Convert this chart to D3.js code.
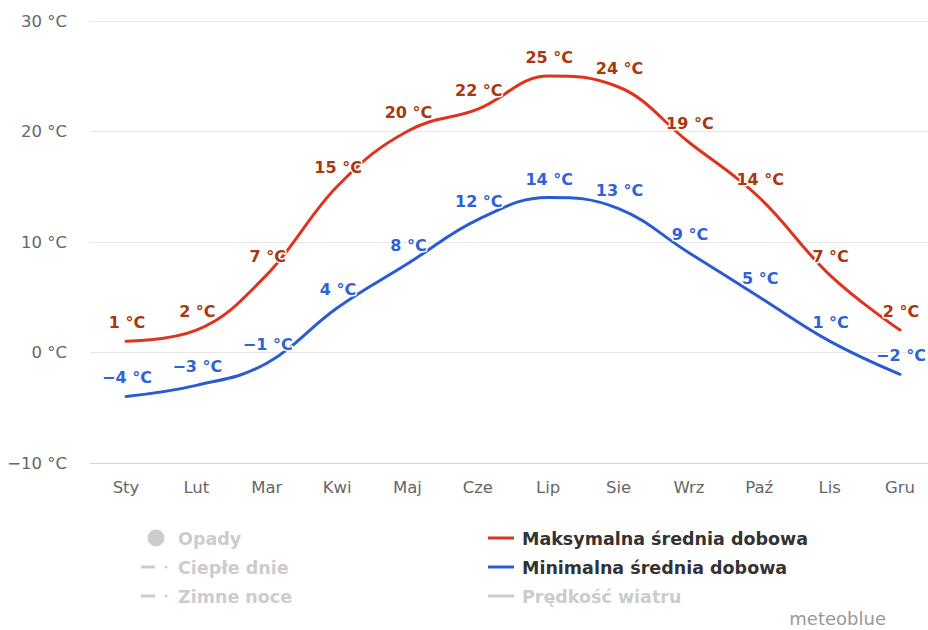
<!DOCTYPE html>
<html>
<head>
<meta charset="utf-8">
<script src="https://cdn.jsdelivr.net/npm/d3@7"></script>
<style>
  html, body { margin: 0; padding: 0; background: #fff; }
  svg { display: block; font-family: "DejaVu Sans", Verdana, sans-serif; }
</style>
</head>
<body>
<svg id="chart" width="928" height="630"></svg>
<script>
// ---- data ----
const months = ["Sty", "Lut", "Mar", "Kwi", "Maj", "Cze", "Lip", "Sie", "Wrz", "Paź", "Lis", "Gru"];
const maxTemp = [1, 2, 7, 15, 20, 22, 25, 24, 19, 14, 7, 2];
const minTemp = [-4, -3, -1, 4, 8, 12, 14, 13, 9, 5, 1, -2];
const yTicks = [-10, 0, 10, 20, 30];
const legendLeft = ["Opady", "Ciepłe dnie", "Zimne noce"];
const legendRight = ["Maksymalna średnia dobowa", "Minimalna średnia dobowa", "Prędkość wiatru"];

const svg = d3.select("#chart");
const x = d3.scalePoint().domain(months).range([126, 900]);
const y = d3.scaleLinear().domain([-10, 30]).range([462.7, 20.7]);

// gridlines
svg.append("g").selectAll("line").data(yTicks.filter(d => d !== -10)).join("line")
  .attr("x1", 90).attr("x2", 928)
  .attr("y1", d => Math.round(y(d)) + 0.5).attr("y2", d => Math.round(y(d)) + 0.5)
  .attr("stroke", "#e6e6e6").attr("stroke-width", 1);
// x axis line
svg.append("line").attr("x1", 90).attr("x2", 928)
  .attr("y1", Math.round(y(-10)) + 0.5).attr("y2", Math.round(y(-10)) + 0.5)
  .attr("stroke", "#ccd6eb").attr("stroke-width", 1);

// y labels
svg.append("g").selectAll("text").data(yTicks).join("text")
  .attr("x", 67).attr("y", d => y(d) + 6)
  .attr("text-anchor", "end").attr("font-size", 16.5).attr("fill", "#666")
  .text(d => (d < 0 ? "\u2212" + Math.abs(d) : d) + " °C");

// x labels
svg.append("g").selectAll("text").data(months).join("text")
  .attr("x", d => x(d)).attr("y", 493)
  .attr("text-anchor", "middle").attr("font-size", 16.5).attr("fill", "#666")
  .text(d => d);

// Highcharts-like spline
function splinePath(pts) {
  const sm = 1.5, den = sm + 1;
  const ctrl = pts.map((p, i) => {
    if (i === 0 || i === pts.length - 1) return { lx: p[0], ly: p[1], rx: p[0], ry: p[1] };
    const l = pts[i - 1], n = pts[i + 1];
    let lx = (sm * p[0] + l[0]) / den, ly = (sm * p[1] + l[1]) / den;
    let rx = (sm * p[0] + n[0]) / den, ry = (sm * p[1] + n[1]) / den;
    let corr = 0;
    if (rx !== lx) corr = ((ry - ly) * (rx - p[0])) / (rx - lx) + p[1] - ry;
    ly += corr; ry += corr;
    if (ly > l[1] && ly > p[1]) { ly = Math.max(l[1], p[1]); ry = 2 * p[1] - ly; }
    else if (ly < l[1] && ly < p[1]) { ly = Math.min(l[1], p[1]); ry = 2 * p[1] - ly; }
    if (ry > n[1] && ry > p[1]) { ry = Math.max(n[1], p[1]); ly = 2 * p[1] - ry; }
    else if (ry < n[1] && ry < p[1]) { ry = Math.min(n[1], p[1]); ly = 2 * p[1] - ry; }
    return { lx, ly, rx, ry };
  });
  const path = d3.path();
  path.moveTo(pts[0][0], pts[0][1]);
  for (let i = 1; i < pts.length; i++) {
    path.bezierCurveTo(ctrl[i - 1].rx, ctrl[i - 1].ry, ctrl[i].lx, ctrl[i].ly, pts[i][0], pts[i][1]);
  }
  return path.toString();
}

const series = [
  { values: maxTemp, line: "#e0321c", label: "#a8380f" },
  { values: minTemp, line: "#2a5bd3", label: "#2f62d4" }
];

series.forEach(s => {
  const pts = months.map((m, i) => [x(m), y(s.values[i])]);
  svg.append("path").attr("d", splinePath(pts))
    .attr("fill", "none").attr("stroke", s.line).attr("stroke-width", 3)
    .attr("stroke-linejoin", "round").attr("stroke-linecap", "round");
});

series.forEach(s => {
  svg.append("g").selectAll("text").data(months).join("text")
    .attr("x", d => x(d) + 1).attr("y", (d, i) => y(s.values[i]) - 13)
    .attr("text-anchor", "middle").attr("font-size", 16).attr("font-weight", "bold")
    .attr("fill", s.label).attr("stroke", "#fff").attr("stroke-width", 3)
    .attr("paint-order", "stroke").attr("stroke-linejoin", "round")
    .text((d, i) => { const v = s.values[i]; return (v < 0 ? "\u2212" + Math.abs(v) : v) + " °C"; });
});

// legend
const rowsY = [538, 567, 596];
const lg = svg.append("g");
// left column
lg.append("circle").attr("cx", 156).attr("cy", rowsY[0]).attr("r", 8.5).attr("fill", "#ccc");
[1, 2].forEach(r => {
  lg.append("line").attr("x1", 141).attr("x2", 155).attr("y1", rowsY[r]).attr("y2", rowsY[r])
    .attr("stroke", "#ccc").attr("stroke-width", 3);
  lg.append("circle").attr("cx", 166).attr("cy", rowsY[r]).attr("r", 1.5).attr("fill", "#ccc");
});
lg.selectAll("text.l").data(legendLeft).join("text").attr("class", "l")
  .attr("x", 178).attr("y", (d, i) => rowsY[i] + 6.5)
  .attr("font-size", 17.5).attr("font-weight", "bold").attr("fill", "#ccc").text(d => d);
// right column
const rightColors = ["#e0321c", "#2a5bd3", "#ccc"];
const rightText = ["#333", "#333", "#ccc"];
legendRight.forEach((t, i) => {
  lg.append("line").attr("x1", 488).attr("x2", 514).attr("y1", rowsY[i]).attr("y2", rowsY[i])
    .attr("stroke", rightColors[i]).attr("stroke-width", 3);
  lg.append("text").attr("x", 522).attr("y", rowsY[i] + 6.5)
    .attr("font-size", 17.5).attr("font-weight", "bold").attr("fill", rightText[i]).text(t);
});

// credit
svg.append("text").attr("x", 886).attr("y", 625).attr("text-anchor", "end")
  .attr("font-size", 18).attr("fill", "#999").text("meteoblue");
</script>
</body>
</html>
